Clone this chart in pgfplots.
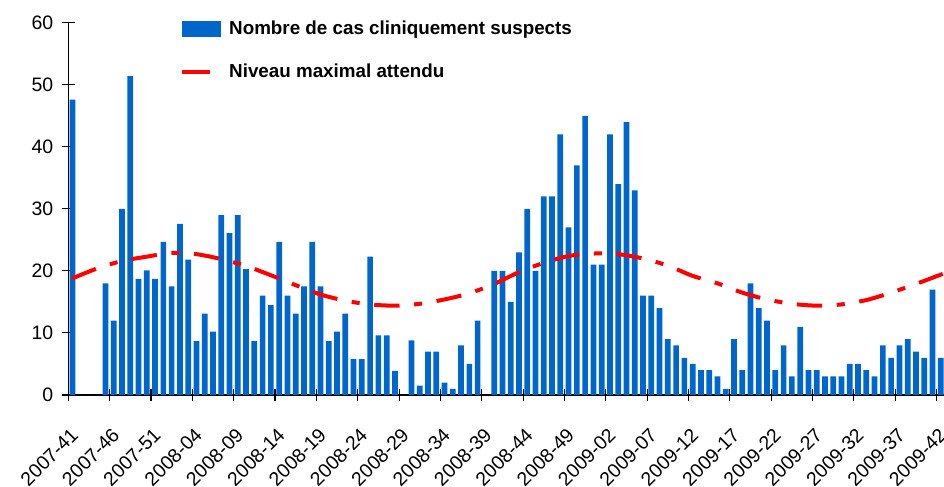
\documentclass[border=0pt]{standalone}
\usepackage{pgfplots}
\pgfplotsset{compat=1.18}
\usepackage{fontspec}
\setmainfont{Liberation Sans}
\definecolor{barblue}{RGB}{0,102,204}
\definecolor{lvred}{RGB}{255,0,0}
\begin{document}
\begin{tikzpicture}
\useasboundingbox (0pt,0pt) rectangle (708pt,364.5pt);
\begin{axis}[
  at={(51.2pt,68.25pt)}, anchor=south west,
  scale only axis, width=657.45pt, height=279.2pt,
  xmin=-0.5, xmax=105.5, ymin=0, ymax=60,
  axis x line=bottom, axis y line=left,
  axis line style={-, black, line width=0.9pt},
  ytick={0,10,...,60},
  xtick={-0.5,4.5,...,104.5},
  xticklabels={2007-41,2007-46,2007-51,2008-04,2008-09,2008-14,2008-19,2008-24,2008-29,2008-34,2008-39,2008-44,2008-49,2009-02,2009-07,2009-12,2009-17,2009-22,2009-27,2009-32,2009-37,2009-42},
  tick align=center, major tick length=9.5pt,
  tick style={black, line width=0.8pt},
  /pgf/number format/assume math mode=true,
  tick label style={font=\fontsize{14.6}{16}\selectfont},
  xticklabel style={xshift=1pt, yshift=-19pt, rotate=45, anchor=north east, inner sep=0pt},
  yticklabel style={xshift=-3pt},
  legend style={at={(0.1274,1.0116)}, anchor=north west, draw=none, fill=none,
    inner sep=0pt, row sep=16.5pt, font=\bfseries\fontsize{14.1}{16}\selectfont,
    /tikz/every odd column/.style={column sep=4pt}},
  legend cell align=left,
]
\addplot[ybar, bar width=0.69, fill=barblue, draw=none,
  legend image code/.code={\fill[barblue] (0pt,-6pt) rectangle (29.25pt,6pt);}]
coordinates {
(0,47.6)(1,0)(2,0)(3,0)(4,18)(5,12)(6,30)(7,51.4)(8,18.7)(9,20.1)
(10,18.7)(11,24.7)(12,17.5)(13,27.6)(14,21.8)(15,8.7)(16,13.1)(17,10.2)(18,29)(19,26.1)
(20,29)(21,20.3)(22,8.7)(23,16)(24,14.5)(25,24.7)(26,16)(27,13.1)(28,17.5)(29,24.7)
(30,17.5)(31,8.7)(32,10.2)(33,13.1)(34,5.8)(35,5.8)(36,22.3)(37,9.6)(38,9.6)(39,3.9)
(40,0)(41,8.8)(42,1.5)(43,7)(44,7)(45,2)(46,1)(47,8)(48,5)(49,12)
(50,0)(51,20)(52,20)(53,15)(54,23)(55,30)(56,20)(57,32)(58,32)(59,42)
(60,27)(61,37)(62,45)(63,21)(64,21)(65,42)(66,34)(67,44)(68,33)(69,16)
(70,16)(71,14)(72,9)(73,8)(74,6)(75,5)(76,4)(77,4)(78,3)(79,1)
(80,9)(81,4)(82,18)(83,14)(84,12)(85,4)(86,8)(87,3)(88,11)(89,4)
(90,4)(91,3)(92,3)(93,3)(94,5)(95,5)(96,4)(97,3)(98,8)(99,6)
(100,8)(101,9)(102,7)(103,6)(104,17)(105,6)
};
\addlegendentry{Nombre de cas cliniquement suspects}
\addplot[lvred, line width=3pt, smooth, dash pattern=on 19pt off 11pt on 6pt off 11pt,
  legend image code/.code={\draw[lvred, line width=3pt, solid] (0pt,0pt) -- (21pt,0pt);}]
coordinates {
(0,18.8)(3,20.4)(6,21.6)(9,22.3)(12,22.9)(15,22.7)(18,21.9)(21,20.8)(24,19.3)(27,17.7)
(30,16.2)(33,15.2)(36,14.6)(39,14.4)(42,14.7)(45,15.4)(48,16.4)(51,17.9)(54,19.8)(57,21.3)
(60,22.4)(63,22.8)(66,22.7)(69,22.0)(72,20.85)(75,19.2)(78,18.0)(81,16.5)(84,15.4)(87,14.7)
(90,14.4)(93,14.6)(96,15.3)(99,16.5)(102,17.9)(105.4,19.6)
};
\addlegendentry{Niveau maximal attendu}
\end{axis}
\end{tikzpicture}
\end{document}
